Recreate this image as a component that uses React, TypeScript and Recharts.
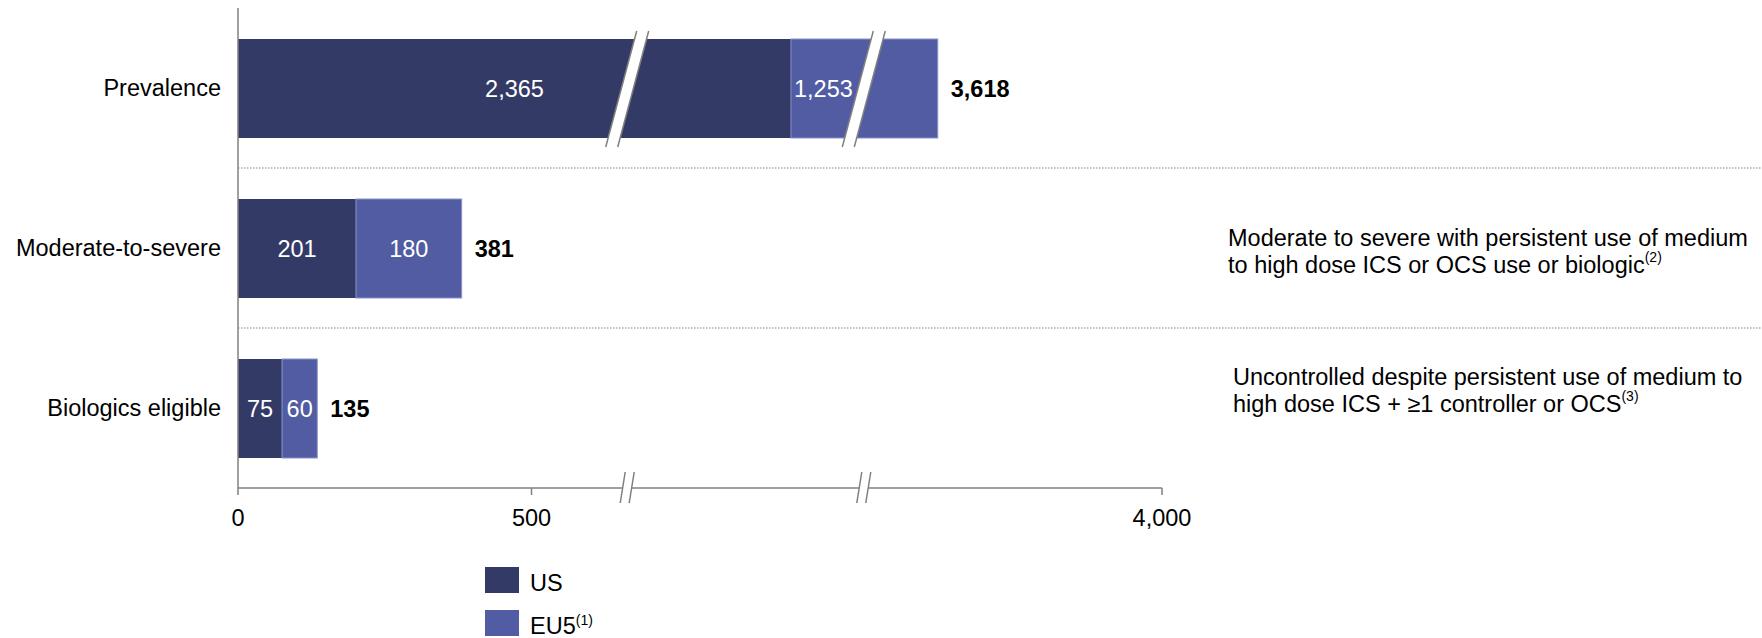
import React from 'react';
import { BarChart, Bar, XAxis, YAxis, LabelList, Legend } from 'recharts';

const categories = ['Prevalence', 'Moderate-to-severe', 'Biologics eligible'];
const usValues = [2365, 201, 75];
const eu5Values = [1253, 180, 60];
const totalValues = [3618, 381, 135];
const xTickValues = [0, 500, 4000];
const xTickLabels = ['0', '500', '4,000'];
const seriesNames = ['US', 'EU5'];
const seriesFootnotes = ['', '(1)'];
const rowNotes = [
  null,
  { lines: ['Moderate to severe with persistent use of medium', 'to high dose ICS or OCS use or biologic'], ref: '(2)' },
  { lines: ['Uncontrolled despite persistent use of medium to', 'high dose ICS + \u22651 controller or OCS'], ref: '(3)' },
];
// value ranges cut out of the axis (the two // breaks)
const axisBreaks = [
  [663, 2086],
  [2489, 3492],
];

const US_COLOR = '#343a66';
const EU5_COLOR = '#525ca3';
const AXIS_COLOR = '#808080';
const FONT = '"Liberation Sans", Arial, sans-serif';
const FONT_SIZE = 23.5;

const W = 1762;
const H = 638;
const MARGIN = { top: 8, right: 0, bottom: 120, left: 0 };
const Y_AXIS_W = 238;
const NOTES_W = 600;
const X_AXIS_H = 30;
const PLOT_TOP = MARGIN.top;
const PLOT_BOTTOM = H - MARGIN.bottom - X_AXIS_H;
const NOTE_X = [0, 1228, 1233];
const NOTE_DY = [0, -10, -31];

// real value -> position on the broken axis
const toAxis = (v: number) => {
  let d = v;
  for (const [from, to] of axisBreaks) {
    if (v >= to) d -= to - from;
    else if (v > from) d -= v - from;
  }
  return d;
};
const breakPositions = axisBreaks.map(([from]) => toAxis(from));
const xTickPositions = xTickValues.map(toAxis);

const rows = categories.map((name, i) => ({
  name,
  us: usValues[i],
  eu5: eu5Values[i],
  total: totalValues[i],
  usPos: toAxis(usValues[i]),
  eu5Pos: toAxis(usValues[i] + eu5Values[i]) - toAxis(usValues[i]),
}));

const fmt = (v: number) => v.toLocaleString('en-US');

const segmentOf = (key: string, row: any) => {
  const start = key === 'us' ? 0 : row.us;
  const end = key === 'us' ? row.us : row.us + row.eu5;
  return [toAxis(start), toAxis(end)];
};

function BarCut({ cx, top, bottom }: any) {
  const cy = (top + bottom) / 2;
  const k = 0.267;
  const hw = 6;
  const tx = cx + k * (cy - top);
  const bx = cx - k * (bottom - cy);
  return (
    <g>
      <polygon
        points={`${tx - hw},${top} ${tx + hw},${top} ${bx + hw},${bottom} ${bx - hw},${bottom}`}
        fill="#fff"
      />
      <line x1={tx - hw} y1={top} x2={bx - hw} y2={bottom} stroke={AXIS_COLOR} strokeWidth={1.5} />
      <line x1={tx + hw} y1={top} x2={bx + hw} y2={bottom} stroke={AXIS_COLOR} strokeWidth={1.5} />
    </g>
  );
}

const makeShape = (key: string) => (props: any) => {
  const { x, y, width, height, fill, payload } = props;
  const [d0, d1] = segmentOf(key, payload);
  const cuts = breakPositions
    .filter((b) => b > d0 && b < d1)
    .map((b) => x + (width * (b - d0)) / (d1 - d0));
  return (
    <g>
      <rect
        x={x}
        y={y}
        width={width}
        height={height}
        fill={fill}
        stroke={key === 'eu5' ? '#8a92cc' : 'none'}
        strokeWidth={1}
      />
      {cuts.map((cx, i) => (
        <BarCut key={i} cx={cx} top={y - 8} bottom={y + height + 9} />
      ))}
    </g>
  );
};

const makeValueLabel = (key: string) => (props: any) => {
  const vb = props.viewBox || props;
  const { x, y, width, height } = vb;
  const row = rows[props.index];
  if (!row) return null;
  const [d0, d1] = segmentOf(key, row);
  let cx = x + width / 2;
  if (key === 'eu5') {
    const inside = breakPositions.filter((b) => b > d0 && b < d1);
    if (inside.length) cx = x + (width * (inside[0] - d0)) / (d1 - d0) / 2 - 4;
  }
  return (
    <text
      x={cx}
      y={y + height / 2}
      textAnchor="middle"
      dominantBaseline="central"
      fill="#fff"
      fontFamily={FONT}
      fontSize={FONT_SIZE}
    >
      {fmt(props.value)}
    </text>
  );
};

const TotalLabel = (props: any) => {
  const vb = props.viewBox || props;
  const { x, y, width, height } = vb;
  return (
    <text
      x={x + width + 13}
      y={y + height / 2}
      dominantBaseline="central"
      fill="#000"
      fontFamily={FONT}
      fontSize={FONT_SIZE}
      fontWeight="bold"
    >
      {fmt(props.value)}
    </text>
  );
};

const CategoryTick = ({ x, y, payload }: any) => (
  <text
    x={x - 17}
    y={y}
    textAnchor="end"
    dominantBaseline="central"
    fill="#000"
    fontFamily={FONT}
    fontSize={FONT_SIZE}
  >
    {payload.value}
  </text>
);

const NoteTick = ({ y, payload }: any) => {
  const i = categories.indexOf(payload.value);
  const note = rowNotes[i];
  if (!note) return null;
  const nx = NOTE_X[i];
  const y0 = y + NOTE_DY[i];
  return (
    <text fill="#000" fontFamily={FONT} fontSize={FONT_SIZE} dominantBaseline="central">
      <tspan x={nx} y={y0}>
        {note.lines[0]}
      </tspan>
      <tspan x={nx} y={y0 + 26.5}>
        {note.lines[1]}
      </tspan>
      <tspan dy={-8} fontSize={14}>
        {note.ref}
      </tspan>
    </text>
  );
};

const XTick = ({ x, y, payload }: any) => {
  const v = payload.value;
  if (breakPositions.some((b) => Math.abs(b - v) < 1e-6)) {
    const t = y - 16;
    const b = y + 15;
    return (
      <g>
        <polygon points={`${x - 7},${b} ${x - 2},${t} ${x + 7},${t} ${x + 2},${b}`} fill="#fff" />
        <line x1={x - 7} y1={b} x2={x - 2} y2={t} stroke={AXIS_COLOR} strokeWidth={1.5} />
        <line x1={x + 2} y1={b} x2={x + 7} y2={t} stroke={AXIS_COLOR} strokeWidth={1.5} />
      </g>
    );
  }
  const li = xTickPositions.findIndex((p) => Math.abs(p - v) < 1e-6);
  return (
    <g>
      <line x1={x} y1={y} x2={x} y2={y + 7} stroke={AXIS_COLOR} strokeWidth={1.5} />
      <text
        x={x}
        y={y + 38}
        textAnchor="middle"
        fill="#000"
        fontFamily={FONT}
        fontSize={FONT_SIZE}
      >
        {xTickLabels[li]}
      </text>
    </g>
  );
};

const LegendContent = ({ payload }: any) => {
  const items = [...(payload || [])].sort(
    (a: any, b: any) => seriesNames.indexOf(a.value) - seriesNames.indexOf(b.value)
  );
  return (
    <div style={{ fontFamily: FONT, fontSize: FONT_SIZE, color: '#000' }}>
      {items.map((entry: any, i: number) => {
        const si = seriesNames.indexOf(entry.value);
        return (
          <div key={i} style={{ display: 'flex', alignItems: 'center', height: 26, marginBottom: 17 }}>
            <span
              style={{ display: 'inline-block', width: 34, height: 26, background: entry.color, marginRight: 11 }}
            />
            <span style={{ position: 'relative', top: 3 }}>
              {entry.value}
              {seriesFootnotes[si] ? <sup style={{ fontSize: 14 }}>{seriesFootnotes[si]}</sup> : null}
            </span>
          </div>
        );
      })}
    </div>
  );
};

const Separators = () => {
  const band = (PLOT_BOTTOM - PLOT_TOP) / categories.length;
  return (
    <g>
      {categories.slice(1).map((_, i) => (
        <line
          key={i}
          x1={Y_AXIS_W}
          x2={W}
          y1={PLOT_TOP + band * (i + 1)}
          y2={PLOT_TOP + band * (i + 1)}
          stroke={AXIS_COLOR}
          strokeWidth={1.2}
          strokeDasharray="1.5 1.5"
        />
      ))}
    </g>
  );
};

export default function App() {
  return (
    <div style={{ position: 'absolute', left: 0, top: 0, width: W, height: H, background: '#fff' }}>
      <BarChart width={W} height={H} data={rows} layout="vertical" margin={MARGIN}>
        <XAxis
          type="number"
          domain={[0, toAxis(xTickValues[xTickValues.length - 1])]}
          ticks={[...xTickPositions, ...breakPositions]}
          interval={0}
          height={X_AXIS_H}
          tickSize={0}
          tickMargin={0}
          tickLine={false}
          axisLine={{ stroke: AXIS_COLOR, strokeWidth: 1.5 }}
          tick={XTick}
        />
        <YAxis
          type="category"
          dataKey="name"
          width={Y_AXIS_W}
          tickSize={0}
          tickMargin={0}
          tickLine={false}
          axisLine={{ stroke: AXIS_COLOR, strokeWidth: 1.5 }}
          tick={CategoryTick}
        />
        <YAxis
          yAxisId="notes"
          orientation="right"
          type="category"
          dataKey="name"
          width={NOTES_W}
          tickSize={0}
          tickMargin={0}
          tickLine={false}
          axisLine={false}
          tick={NoteTick}
        />
        <Separators />
        <Bar
          dataKey="usPos"
          name={seriesNames[0]}
          stackId="s"
          fill={US_COLOR}
          barSize={99}
          isAnimationActive={false}
          shape={makeShape('us')}
        >
          <LabelList dataKey="us" content={makeValueLabel('us')} />
        </Bar>
        <Bar
          dataKey="eu5Pos"
          name={seriesNames[1]}
          stackId="s"
          fill={EU5_COLOR}
          barSize={99}
          isAnimationActive={false}
          shape={makeShape('eu5')}
        >
          <LabelList dataKey="eu5" content={makeValueLabel('eu5')} />
          <LabelList dataKey="total" content={TotalLabel} />
        </Bar>
        <Legend
          layout="vertical"
          align="center"
          verticalAlign="middle"
          wrapperStyle={{ left: 485, top: 567, width: 300, height: 'auto' }}
          content={LegendContent}
        />
      </BarChart>
    </div>
  );
}
